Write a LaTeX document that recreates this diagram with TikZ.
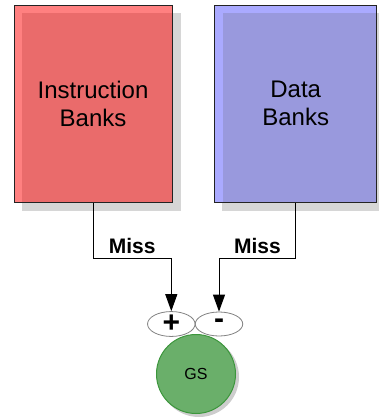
\documentclass[tikz,border=0pt]{standalone}
\usepackage{fontspec}
\setmainfont{Liberation Sans}
\usetikzlibrary{arrows.meta,backgrounds,shapes.geometric}
\definecolor{shadowgray}{RGB}{214,214,214}
\definecolor{redstrip}{RGB}{255,128,128}
\definecolor{redover}{RGB}{234,107,107}
\definecolor{bluestrip}{RGB}{170,170,255}
\definecolor{blueover}{RGB}{153,153,221}
\definecolor{boxedge}{RGB}{35,35,35}
\definecolor{gsfill}{RGB}{106,175,106}
\definecolor{gsedge}{RGB}{60,150,60}
\definecolor{gsshadow}{RGB}{205,205,205}
\definecolor{signedge}{RGB}{130,130,130}
\begin{document}
\begin{tikzpicture}[x=1pt,y=-1pt,
  bank/.style={draw=boxedge, line width=1pt, inner sep=0pt, minimum height=197pt,
    align=center, font=\fontsize{24}{28}\selectfont,
    path picture={\fill[#1] ([shift={(8pt,-8pt)}]path picture bounding box.north west)
      rectangle (path picture bounding box.south east);}},
  sign/.style={ellipse, draw=signedge, line width=0.8pt, fill=white, inner sep=0pt,
    minimum width=47.5pt, minimum height=24pt, font=\bfseries\fontsize{30}{30}\selectfont},
  gsnode/.style={circle, draw=gsedge, line width=1pt, fill=gsfill, inner sep=0pt,
    minimum size=79pt, font=\fontsize{16}{18}\selectfont},
  conn/.style={draw=black, line width=1pt, -{Triangle[length=17pt,width=12pt]}},
  misslbl/.style={anchor=base, yshift=4.5pt, inner sep=0pt, font=\bfseries\fontsize{21}{24}\selectfont}]
\useasboundingbox (0,0) rectangle (379,418);
% boxes
\node[bank=redover, fill=redstrip, minimum width=158pt] (ib) at (93,103.5) {Instruction\\Banks};
\node[bank=blueover, fill=bluestrip, minimum width=162pt] (db) at (295.7,103.5) {Data\\Banks};
% GS and sign inputs
\node[gsnode] (gs) at (196,374) {GS};
\node[sign] (plus) at (171.3,324) {\raisebox{-1pt}{+}};
\node[sign] (minus) at (219,324) {\raisebox{-2pt}{-}};
% shadows
\begin{scope}[on background layer]
  \fill[shadowgray] ([shift={(8,8)}]ib.north west) rectangle ([shift={(8,8)}]ib.south east);
  \fill[shadowgray] ([shift={(8,8)}]db.north west) rectangle ([shift={(8,8)}]db.south east);
  \fill[gsshadow] ([shift={(3,3)}]gs.center) circle[radius=40pt];
\end{scope}
% connectors
\path (0,258) coordinate (ybend);
\coordinate (bendL) at (plus.north |- ybend);
\coordinate (bendR) at (minus.north |- ybend);
\draw[conn] (ib.south) |- node[misslbl, pos=0.75] {Miss} (bendL) -- (plus.north);
\draw[conn] (db.south) |- node[misslbl, pos=0.75] {Miss} (bendR) -- (minus.north);
\end{tikzpicture}
\end{document}
